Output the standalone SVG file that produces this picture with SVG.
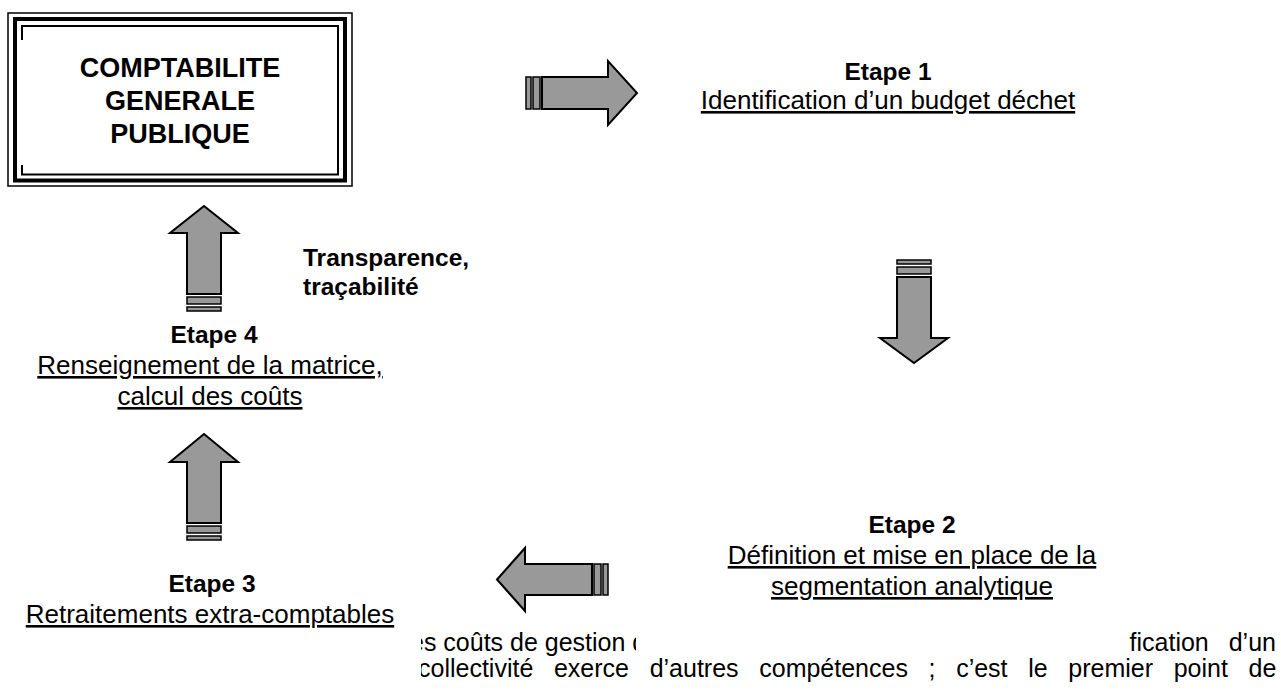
<svg xmlns="http://www.w3.org/2000/svg" width="1281" height="693" viewBox="0 0 1281 693">
<style>
text{font-family:"Liberation Sans",Arial,sans-serif;fill:#000}
.b{font-weight:bold;font-size:24.5px}
.t{font-weight:bold;font-size:27px}
.r{font-size:26px;text-decoration:underline}
.p{font-size:25px}
.arr{fill:#999;stroke:#000;stroke-width:2;stroke-linejoin:miter}
.st{fill:#999;stroke:#000;stroke-width:1.5}
.frame{fill:none;stroke:#000}
</style>
<defs>
<clipPath id="c1"><rect x="421" y="625" width="215" height="40"/><rect x="1128" y="625" width="153" height="40"/></clipPath>
<clipPath id="c2"><rect x="421" y="658" width="860" height="35"/></clipPath>
</defs>
<rect width="1281" height="693" fill="#fff"/>
<g id="comptabilite">
<rect class="frame" x="8" y="13" width="344" height="173" stroke-width="1.5"/>
<rect class="frame" x="15" y="19" width="330" height="161.5" stroke-width="4"/>
<path class="frame" stroke-width="2" d="M22,40 V26 H338 V174.5 H22 V165"/>
<text class="t" x="180" y="77" text-anchor="middle">COMPTABILITE</text>
<text class="t" x="180" y="110" text-anchor="middle">GENERALE</text>
<text class="t" x="180" y="143" text-anchor="middle">PUBLIQUE</text>
</g>
<g id="etape1">
<text class="b" x="888" y="80" text-anchor="middle">Etape 1</text>
<text class="r" x="888" y="109" text-anchor="middle">Identification d’un budget déchet</text>
</g>
<g id="etape2">
<text class="b" x="912" y="533" text-anchor="middle">Etape 2</text>
<text class="r" x="912" y="564" text-anchor="middle">Définition et mise en place de la</text>
<text class="r" x="912" y="595" text-anchor="middle">segmentation analytique</text>
</g>
<g id="etape3">
<text class="b" x="212" y="592" text-anchor="middle">Etape 3</text>
<text class="r" x="210" y="623" text-anchor="middle">Retraitements extra-comptables</text>
</g>
<g id="etape4">
<text class="b" x="214" y="343" text-anchor="middle">Etape 4</text>
<text class="r" x="210" y="374" text-anchor="middle">Renseignement de la matrice,</text>
<text class="r" x="210" y="405" text-anchor="middle">calcul des coûts</text>
</g>
<g id="transparence">
<text class="b" x="303" y="266">Transparence,</text>
<text class="b" x="303" y="295">traçabilité</text>
</g>
<g id="connectors">
<path class="arr" d="M542,77 H608 V61 L637,93 L608,125 V109 H542 Z"/>
<rect class="st" x="526" y="77" width="5" height="32"/>
<rect class="st" x="533" y="77" width="7" height="32"/>
<path class="arr" d="M897,277 V338 H880 L914,363 L948,338 H931 V277 Z"/>
<rect class="st" x="897" y="260" width="34" height="4"/>
<rect class="st" x="897" y="267" width="34" height="7"/>
<path class="arr" d="M592,564 H525 V548 L497,579.5 L525,611 V595 H592 Z"/>
<rect class="st" x="594" y="564" width="7" height="31"/>
<rect class="st" x="603" y="564" width="5" height="31"/>
<path class="arr" d="M187,523 V462 H170 L204,434 L238,462 H221 V523 Z"/>
<rect class="st" x="187" y="526" width="34" height="7"/>
<rect class="st" x="187" y="536" width="34" height="4"/>
<path class="arr" d="M187,294 V233 H170 L204,206 L238,233 H221 V294 Z"/>
<rect class="st" x="187" y="297" width="34" height="7"/>
<rect class="st" x="187" y="307" width="34" height="4"/>
</g>
<g id="paragraph">
<g clip-path="url(#c1)">
<text class="p" x="410" y="651">es coûts de gestion d</text>
<text class="p" x="1276" y="651" text-anchor="end" word-spacing="13">fication d’un</text>
</g>
<g clip-path="url(#c2)">
<text class="p" x="418" y="677" word-spacing="13.7">collectivité exerce d’autres compétences ; c’est le premier point de</text>
</g>
</g>
</svg>
